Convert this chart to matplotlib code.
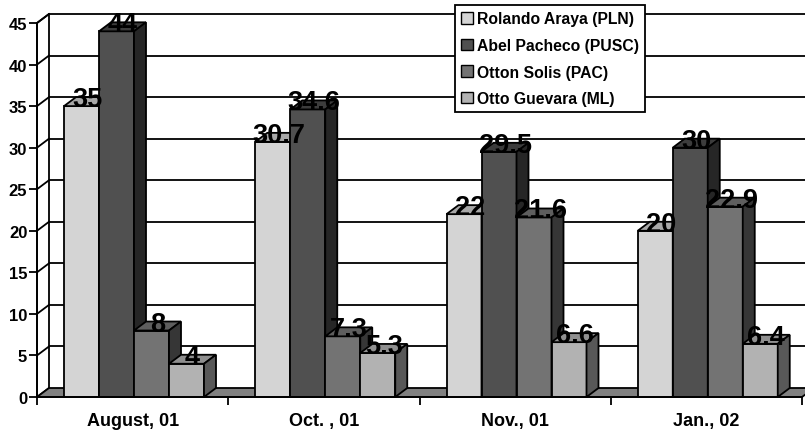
import matplotlib
matplotlib.use("Agg")
import matplotlib.pyplot as plt
from matplotlib.patches import Polygon, Patch

categories = ["August, 01", "Oct. , 01", "Nov., 01", "Jan., 02"]
candidates = ["Rolando Araya (PLN)", "Abel Pacheco (PUSC)",
              "Otton Solis (PAC)", "Otto Guevara (ML)"]
araya = [35, 30.7, 22, 20]
pacheco = [44, 34.6, 29.5, 30]
solis = [8, 7.3, 21.6, 22.9]
guevara = [4, 5.3, 6.6, 6.4]
series = [araya, pacheco, solis, guevara]
yticks = list(range(0, 50, 5))

front_col = ["#d4d4d4", "#505050", "#737373", "#b2b2b2"]
top_col = ["#a8a8a8", "#3c3c3c", "#5e5e5e", "#8f8f8f"]
side_col = ["#8a8a8a", "#262626", "#363636", "#585858"]

plt.rcParams["font.family"] = ["Liberation Sans", "DejaVu Sans"]
plt.rcParams["font.weight"] = "bold"

W, H = 805, 431
fig = plt.figure(figsize=(W / 100, H / 100), dpi=100)
# front plane: x 37..802 px, y=0 at 398 px, y=45 at 24 px
ax = fig.add_axes([37 / W, (H - 398) / H, 765 / W, 374 / H])
ncat = len(categories)
ymax = 45
ax.set_xlim(0, ncat)
ax.set_ylim(0, ymax)

# depth offset of the 3d look, in data units
dx = 12 * ncat / 765
dy = 9 * ymax / 374
lw = 1.3

# left wall and floor
ax.add_patch(Polygon([(0, 0), (dx, dy), (dx, ymax + dy), (0, ymax)],
                     closed=True, facecolor="white", edgecolor="black",
                     lw=lw, clip_on=False, zorder=1))
ax.add_patch(Polygon([(0, 0), (ncat, 0), (ncat + dx, dy), (dx, dy)],
                     closed=True, facecolor="#808080", edgecolor="black",
                     lw=lw, clip_on=False, zorder=1))
# gridlines on back wall and left wall
for t in yticks[1:]:
    ax.plot([dx, ncat + dx], [t + dy, t + dy], color="black", lw=lw,
            clip_on=False, zorder=0.5)
    ax.plot([0, dx], [t, t + dy], color="black", lw=lw, clip_on=False,
            zorder=1.2)

bw = 35 / 191.25
start = 27 / 191.25
for i in range(ncat):
    for j, vals in enumerate(series):
        v = vals[i]
        x0 = i + start + j * bw
        x1 = x0 + bw
        z = 2 + i * 0.1 + j * 0.01
        ax.add_patch(Polygon([(x0, 0), (x1, 0), (x1, v), (x0, v)],
                             facecolor=front_col[j], edgecolor="black",
                             lw=lw, clip_on=False, zorder=z))
        ax.add_patch(Polygon([(x0, v), (x1, v), (x1 + dx, v + dy),
                              (x0 + dx, v + dy)],
                             facecolor=top_col[j], edgecolor="black",
                             lw=lw, clip_on=False, zorder=z))
        ax.add_patch(Polygon([(x1, 0), (x1 + dx, dy), (x1 + dx, v + dy),
                              (x1, v)],
                             facecolor=side_col[j], edgecolor="black",
                             lw=lw, clip_on=False, zorder=z))

for i in range(ncat):
    for j, vals in enumerate(series):
        v = vals[i]
        xc = i + start + (j + 0.5) * bw + dx / 2
        ax.text(xc, v, f"{v:g}", ha="center", va="baseline", fontsize=19.5,
                fontweight="bold", color="black", zorder=10)

for s in ["top", "right"]:
    ax.spines[s].set_visible(False)
for s in ["left", "bottom"]:
    ax.spines[s].set_linewidth(lw)
    ax.spines[s].set_zorder(6)
ax.patch.set_alpha(0)

ax.set_yticks(yticks)
ax.set_yticklabels([str(t) for t in yticks], fontsize=12, fontweight="bold")
ax.set_xticks(range(ncat + 1))
ax.set_xticklabels([])
ax.set_xticks([i + 0.5 for i in range(ncat)], minor=True)
ax.set_xticklabels(categories, minor=True, fontsize=13, fontweight="bold")
ax.tick_params(axis="both", which="major", direction="out", length=6,
               width=lw, pad=1)
ax.tick_params(axis="x", which="minor", length=0, pad=11)

handles = [Patch(facecolor=c, edgecolor="black", lw=1) for c in front_col]
leg = ax.legend(handles, candidates, loc="upper left",
                bbox_to_anchor=(455 / W, 1 - 6 / H),
                bbox_transform=fig.transFigure, borderaxespad=0,
                prop={"size": 11.3, "weight": "bold"}, frameon=True,
                fancybox=False, framealpha=1, edgecolor="black",
                borderpad=0.4, labelspacing=0.74, handlelength=0.75,
                handleheight=0.75, handletextpad=0.25)
leg.get_frame().set_linewidth(lw)
leg.set_zorder(20)

fig.savefig("out.png", dpi=100)
